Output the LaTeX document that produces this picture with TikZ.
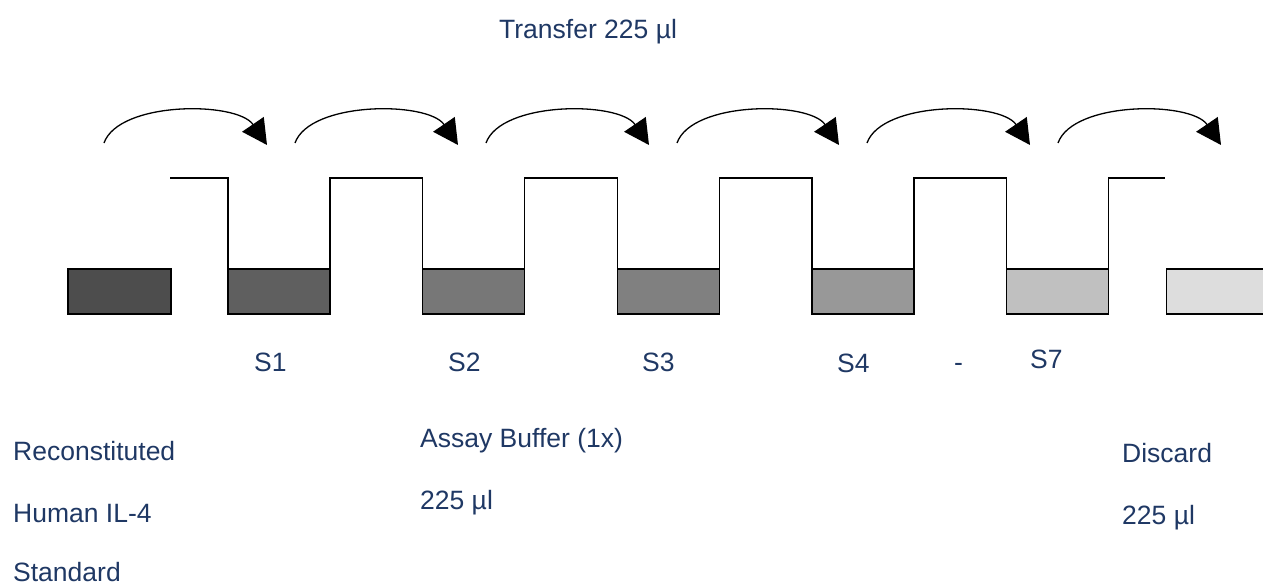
\documentclass[tikz,border=0pt]{standalone}
\usepackage{fontspec}
\setmainfont{Liberation Sans}
\usepackage{tikz}
\usetikzlibrary{arrows.meta, positioning}

\definecolor{labelblue}{RGB}{31,56,100}
\definecolor{g_0}{HTML}{4D4D4D}
\definecolor{g_1}{HTML}{5F5F5F}
\definecolor{g_2}{HTML}{777777}
\definecolor{g_3}{HTML}{808080}
\definecolor{g_4}{HTML}{989898}
\definecolor{g_5}{HTML}{C0C0C0}
\definecolor{g_6}{HTML}{DDDDDD}

\tikzset{
  well/.style={draw, line width=1.3pt, rectangle, minimum width=102pt,
    minimum height=45pt, inner sep=0pt, outer sep=0pt},
  rim/.style={line width=1.3pt},
  transfer/.style={line width=1.3pt, -{Triangle[length=25pt,width=26pt]}},
  lbl/.style={text=labelblue, font=\fontsize{26.5}{32}\selectfont,
    inner sep=0pt, anchor=base west}
}

\begin{document}
\begin{tikzpicture}[x=1pt,y=-1pt]
      \useasboundingbox (0,0) rectangle (1263,586);
      \clip (0,0) rectangle (1263,586);

      % wells
      \node[well, fill=g_0, anchor=north west, minimum width=103pt] (w_0) at (68,269) {};
      \node[well, fill=g_1] (w_1) [right=57pt of w_0] {};
      \node[well, fill=g_2] (w_2) [right=92.7pt of w_1] {};
      \node[well, fill=g_3] (w_3) [right=92.7pt of w_2] {};
      \node[well, fill=g_4] (w_4) [right=92.7pt of w_3] {};
      \node[well, fill=g_5] (w_5) [right=92.7pt of w_4] {};
      \node[well, fill=g_6] (w_6) [right=58pt of w_5] {};

      % tube outline
      \coordinate (r_0) at (170,178);
      \draw[rim] (r_0) -| (w_1.north west);
      \draw[rim] (w_1.north east) -- ++(0,-91) -| (w_2.north west);
      \draw[rim] (w_2.north east) -- ++(0,-91) -| (w_3.north west);
      \draw[rim] (w_3.north east) -- ++(0,-91) -| (w_4.north west);
      \draw[rim] (w_4.north east) -- ++(0,-91) -| (w_5.north west);
      \draw[rim] (w_5.north east) -- ++(0,-91) -- ++(56,0);

      % transfer arrows
      \coordinate (a_1) at (104,143);    \coordinate (b_1) at (267,145);
      \coordinate (a_2) at (295,143);    \coordinate (b_2) at (458,145);
      \coordinate (a_3) at (486,143);    \coordinate (b_3) at (649,145);
      \coordinate (a_4) at (677,143);    \coordinate (b_4) at (839,145);
      \coordinate (a_5) at (867,143);    \coordinate (b_5) at (1030,145);
      \coordinate (a_6) at (1058,143);   \coordinate (b_6) at (1221,145);

      \draw[transfer] (a_1) .. controls +(15,-42) and +(-30,-44) .. (b_1);
      \draw[transfer] (a_2) .. controls +(15,-42) and +(-30,-44) .. (b_2);
      \draw[transfer] (a_3) .. controls +(15,-42) and +(-30,-44) .. (b_3);
      \draw[transfer] (a_4) .. controls +(15,-42) and +(-30,-44) .. (b_4);
      \draw[transfer] (a_5) .. controls +(15,-42) and +(-30,-44) .. (b_5);
      \draw[transfer] (a_6) .. controls +(15,-42) and +(-30,-44) .. (b_6);

      % labels
      \node[lbl] (t_top) at (499,38) {Transfer 225 µl};
      \node[lbl] (s_1) at (254,371) {S1};
      \node[lbl] (s_2) at (448,371) {S2};
      \node[lbl] (s_3) at (642,371) {S3};
      \node[lbl] (s_4) at (837,372) {S4};
      \node[lbl] (s_dash) at (954,371) {-};
      \node[lbl] (s_7) at (1030,368) {S7};

      \node[lbl] (std_1) at (13,460) {Reconstituted};
      \node[lbl] (std_2) at (13,522) {Human IL-4};
      \node[lbl] (std_3) at (13,581) {Standard};
      \node[lbl] (buf_1) at (420,447) {Assay Buffer (1x)};
      \node[lbl] (buf_2) at (420,509) {225 µl};
      \node[lbl] (dis_1) at (1122,462) {Discard};
      \node[lbl] (dis_2) at (1122,524) {225 µl};
    \end{tikzpicture}
\end{document}
